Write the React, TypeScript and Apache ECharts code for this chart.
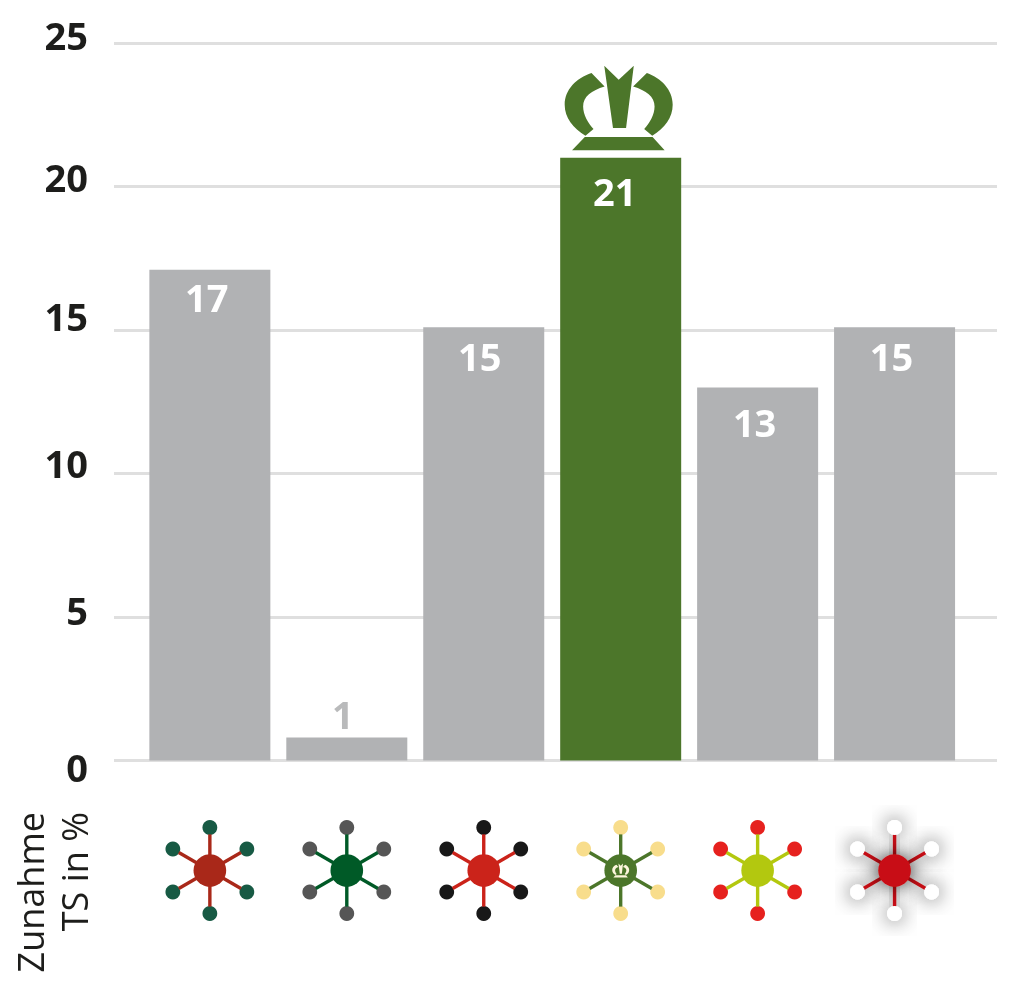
import React, { useEffect, useRef } from "react";
import * as echarts from "echarts";

const barValues = [17.1, 0.8, 15.1, 21, 13, 15.1];
const barLabels = ["17", "1", "15", "21", "13", "15"];
const axisTitle = "Zunahme\nTS in %";
const highlighted = 3;
const hubColors = ["#a92819", "#005a27", "#cb231a", "#4c762a", "#b3c80f", "#c80f13"];
const spokeColors = ["#a92819", "#005a27", "#cb231a", "#4c762a", "#b3c80f", "#c80f13"];
const dotColors = ["#175a44", "#565656", "#181818", "#f8dd8c", "#e6211e", "#ffffff"];

const FONT = '"Open Sans", sans-serif';
const GREY = "#b1b2b4";
const GREEN = "#4c762a";
const GRID = "#dfdfdf";
const INK = "#1d1d1b";

const CROWN =
  "M193 48L236 90L281 48L258 235L219 235Z" +
  "M155 70L194 110C155 122 130 140 130 170C130 195 145 220 161 238L137 258C100 235 75 205 75 165C75 120 110 85 155 70Z" +
  "M320 70L279 110C318 122 343 140 343 170C343 195 328 220 312 238L336 258C373 235 397 205 397 165C397 120 362 85 320 70Z" +
  "M135 262L337 262L373 302L97 302Z";

const tickStyle = (padding: number[]) => ({
  fontFamily: FONT,
  fontWeight: 700,
  fontSize: 38,
  color: INK,
  padding,
});
const labelNudge = [
  [-3, -4],
  [-4, -3],
  [-4, -2],
  [-6, -3],
  [-3, -1],
  [-3, -2],
];

export default function App() {
  const ref = useRef<HTMLDivElement>(null);
  useEffect(() => {
    document.body.style.margin = "0";
    const chart = echarts.init(ref.current!, undefined, { renderer: "svg" });
    const renderIcon = (params: any, api: any) => {
      const i = api.value(0);
      const base = api.coord([i, 0]);
      const cx = base[0];
      const cy = base[1] + 110;
      const dirs = [[0, -43], [37, -21.5], [37, 21.5], [0, 43], [-37, 21.5], [-37, -21.5]];
      const glow = i === 5 ? { shadowBlur: 20, shadowColor: "rgba(0,0,0,0.75)" } : {};
      const children: any[] = [];
      dirs.forEach((d) => {
        children.push({
          type: "circle",
          shape: { cx: cx + d[0], cy: cy + d[1], r: 7.4 },
          style: { fill: dotColors[i], ...glow },
        });
      });
      dirs.forEach((d) => {
        const len = Math.hypot(d[0], d[1]);
        const nx = (-d[1] / len) * 1.7;
        const ny = (d[0] / len) * 1.7;
        const ex = d[0] * 0.84;
        const ey = d[1] * 0.84;
        children.push({
          type: "polygon",
          shape: {
            points: [
              [cx + nx, cy + ny],
              [cx + ex + nx, cy + ey + ny],
              [cx + ex - nx, cy + ey - ny],
              [cx - nx, cy - ny],
            ],
          },
          style: { fill: spokeColors[i], ...glow },
        });
      });
      if (i === 5) {
        dirs.forEach((d) => {
          children.push({
            type: "circle",
            shape: { cx: cx + d[0], cy: cy + d[1], r: 7.4 },
            style: { fill: dotColors[i] },
          });
        });
      }
      children.push({
        type: "circle",
        shape: { cx, cy, r: 16.3 },
        style: { fill: hubColors[i], ...glow },
      });
      if (i === highlighted) {
        children.push({
          type: "path",
          shape: { pathData: CROWN, layout: "cover", x: cx - 8.5, y: cy - 7, width: 17, height: 14 },
          style: { fill: "#fdf6dc" },
        });
      }
      return { type: "group", children };
    };
    const renderCrown = (params: any, api: any) => {
      const p = api.coord([api.value(0), api.value(1)]);
      return {
        type: "path",
        shape: { pathData: CROWN, layout: "cover", x: p[0] - 56, y: p[1] - 92, width: 108, height: 84.5 },
        style: { fill: GREEN },
      };
    };
    chart.setOption({
      animation: false,
      grid: { left: 114, right: 15, top: 43, bottom: 225.5 },
      xAxis: { type: "value", min: -0.7, max: 5.748, show: false },
      yAxis: {
        type: "value",
        min: 0,
        max: 25,
        interval: 5,
        axisLine: { show: false },
        axisTick: { show: false },
        splitLine: { show: true, lineStyle: { color: GRID, width: 3 } },
        axisLabel: {
          margin: 26,
          formatter: (v: number) => `{t${v}|${v}}`,
          rich: {
            t25: tickStyle([0, 0, 16, 0]),
            t20: tickStyle([0, 0, 20, 0]),
            t15: tickStyle([0, 0, 28, 0]),
            t10: tickStyle([0, 0, 22, 0]),
            t5: tickStyle([0, 0, 14, 0]),
            t0: tickStyle([12, 0, 0, 0]),
          },
        },
      },
      graphic: [
        {
          type: "text",
          x: 52,
          y: 812,
          rotation: Math.PI / 2,
          style: {
            text: axisTitle,
            align: "right",
            verticalAlign: "middle",
            fontFamily: FONT,
            fontSize: 36,
            lineHeight: 44,
            fill: INK,
          },
        },
      ],
      series: [
        {
          type: "bar",
          barWidth: 121,
          data: barValues.map((v, i) => ({
            value: [i, v],
            itemStyle: { color: i === highlighted ? GREEN : GREY },
            label:
              v < 2
                ? { position: "top", distance: 2, color: "#b9babb", offset: labelNudge[i] }
                : {
                    position: "insideTop",
                    distance: i === highlighted || i === 4 ? 17 : 12,
                    color: "#ffffff",
                    offset: labelNudge[i],
                  },
          })),
          label: {
            show: true,
            fontFamily: FONT,
            fontWeight: 700,
            fontSize: 38,
            formatter: (p: any) => barLabels[p.dataIndex],
          },
        },
        {
          type: "custom",
          clip: false,
          silent: true,
          renderItem: renderIcon,
          data: barValues.map((_, i) => [i, 0]),
          z: 5,
        },
        {
          type: "custom",
          clip: false,
          silent: true,
          renderItem: renderCrown,
          data: [[highlighted, barValues[highlighted]]],
          z: 5,
        },
      ],
    });
    return () => chart.dispose();
  }, []);
  return <div ref={ref} style={{ position: "fixed", left: 0, top: 0, width: 1012, height: 986 }} />;
}
